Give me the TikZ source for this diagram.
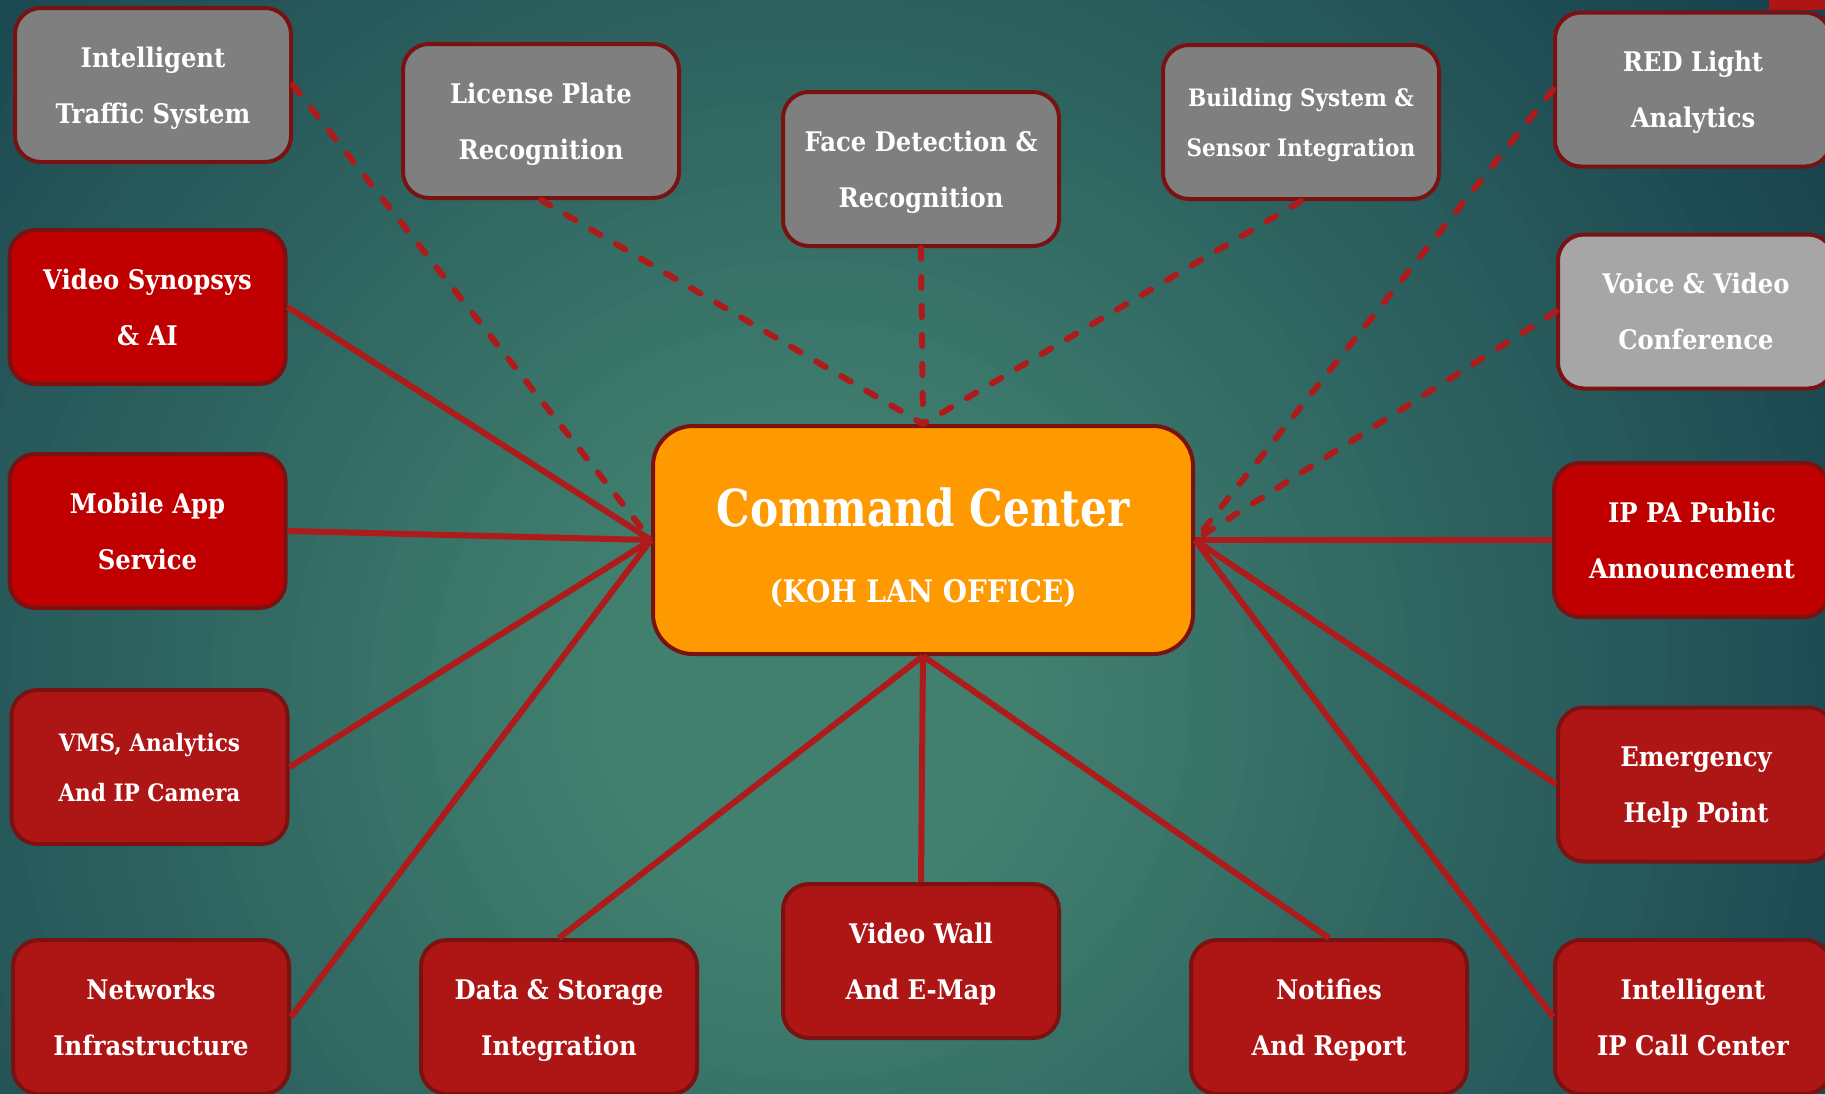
\documentclass[tikz,border=0pt]{standalone}
\usepackage{fontspec}
\setmainfont{DejaVu Serif Condensed}
\newfontfamily\titlefont{DejaVu Serif Condensed}[FakeStretch=0.92]
\definecolor{bgin}{HTML}{41806F}
\definecolor{bgout}{HTML}{18424E}
\definecolor{boxgray}{HTML}{7F7F7F}
\definecolor{boxlgray}{HTML}{A6A6A6}
\definecolor{boxred}{HTML}{C00000}
\definecolor{boxdred}{HTML}{AE1515}
\definecolor{rim}{HTML}{7A1212}
\definecolor{link}{HTML}{AF1A1A}
\definecolor{ccfill}{HTML}{FF9900}
\tikzset{
  x=1pt, y=-1pt,
  item/.style={draw=rim, line width=4pt, rounded corners=26pt, minimum width=276pt,
    minimum height=154pt, align=center, text=white, inner sep=0pt, text depth=0pt,
    font=\bfseries\fontsize{27}{56}\selectfont},
  itemsmall/.style={item, font=\bfseries\fontsize{24}{50}\selectfont},
  gbox/.style={item, fill=boxgray},
  lgbox/.style={item, fill=boxlgray},
  rbox/.style={item, fill=boxred},
  drbox/.style={item, fill=boxdred},
  ccbox/.style={draw=rim, line width=4pt, rounded corners=40pt, fill=ccfill,
    minimum width=540pt, minimum height=228pt},
  solidlink/.style={draw=link, line width=6pt},
  dashlink/.style={solidlink, line cap=round, dash pattern=on 11pt off 18pt},
  cctext/.style={text=white, inner sep=0pt, anchor=base}
}
\begin{document}
\begin{tikzpicture}
\useasboundingbox (0,0) rectangle (1825,1093);
\fill[bgout] (0,0) rectangle (1825,1093);
\begin{scope}
\clip (0,0) rectangle (1825,1093);
\foreach \i in {0,...,48} {
  \pgfmathsetmacro{\rad}{1180-\i*20}
  \pgfmathsetmacro{\mix}{\i*100/48}
  \fill[bgin!\mix!bgout] (810,700) circle (\rad);
}
\end{scope}
\fill[boxdred] (1769,0) rectangle (1825,10);

% nodes
\node[ccbox] (cc) at (923,540) {};
\node[cctext, font=\titlefont\bfseries\fontsize{51}{60}\selectfont] (cctitle) at (923,526) {Command Center};
\node[cctext, font=\bfseries\fontsize{31}{36}\selectfont] (ccsub) at (923,602) {(KOH LAN OFFICE)};

\node[gbox] (its) at (153,85) {Intelligent\\Traffic System};
\node[gbox] (lpr) at (541,121) {License Plate\\Recognition};
\node[gbox] (fdr) at (921,169) {Face Detection \&\\Recognition};
\node[gbox, itemsmall] (bss) at (1301,122) {Building System \&\\Sensor Integration};
\node[gbox] (red) at (1693,89.5) {RED Light\\Analytics};
\node[lgbox] (vvc) at (1696,311.5) {Voice \& Video\\Conference};

\node[rbox] (vsa) at (147.5,307) {Video Synopsys\\\& AI};
\node[rbox] (mas) at (147.5,531) {Mobile App\\Service};
\node[drbox, itemsmall] (vms) at (149.5,767) {VMS, Analytics\\And IP Camera};
\node[drbox] (ni) at (151,1017) {Networks\\Infrastructure};
\node[drbox] (dsi) at (559,1017) {Data \& Storage\\Integration};
\node[drbox] (vw) at (921,961) {Video Wall\\And E-Map};
\node[drbox] (nar) at (1329,1017) {Notifies\\And Report};
\node[drbox] (ipcc) at (1693,1017) {Intelligent\\IP Call Center};
\node[drbox] (ehp) at (1696,784.5) {Emergency\\Help Point};
\node[rbox] (ippa) at (1692,540) {IP PA Public\\Announcement};

% connectors
\draw[dashlink] (its.east) -- (cc.west);
\draw[dashlink] (lpr.south) -- (cc.north);
\draw[dashlink] (fdr.south) -- (cc.north);
\draw[dashlink] (bss.south) -- (cc.north);
\draw[dashlink] (red.west) -- (cc.east);
\draw[dashlink] (vvc.west) -- (cc.east);

\draw[solidlink] (vsa.east) -- (cc.west);
\draw[solidlink] (mas.east) -- (cc.west);
\draw[solidlink] (vms.east) -- (cc.west);
\draw[solidlink] (ni.east) -- (cc.west);
\draw[solidlink] (dsi.north) -- (cc.south);
\draw[solidlink] (vw.north) -- (cc.south);
\draw[solidlink] (nar.north) -- (cc.south);
\draw[solidlink] (ippa.west) -- (cc.east);
\draw[solidlink] (ehp.west) -- (cc.east);
\draw[solidlink] (ipcc.west) -- (cc.east);
\end{tikzpicture}
\end{document}
